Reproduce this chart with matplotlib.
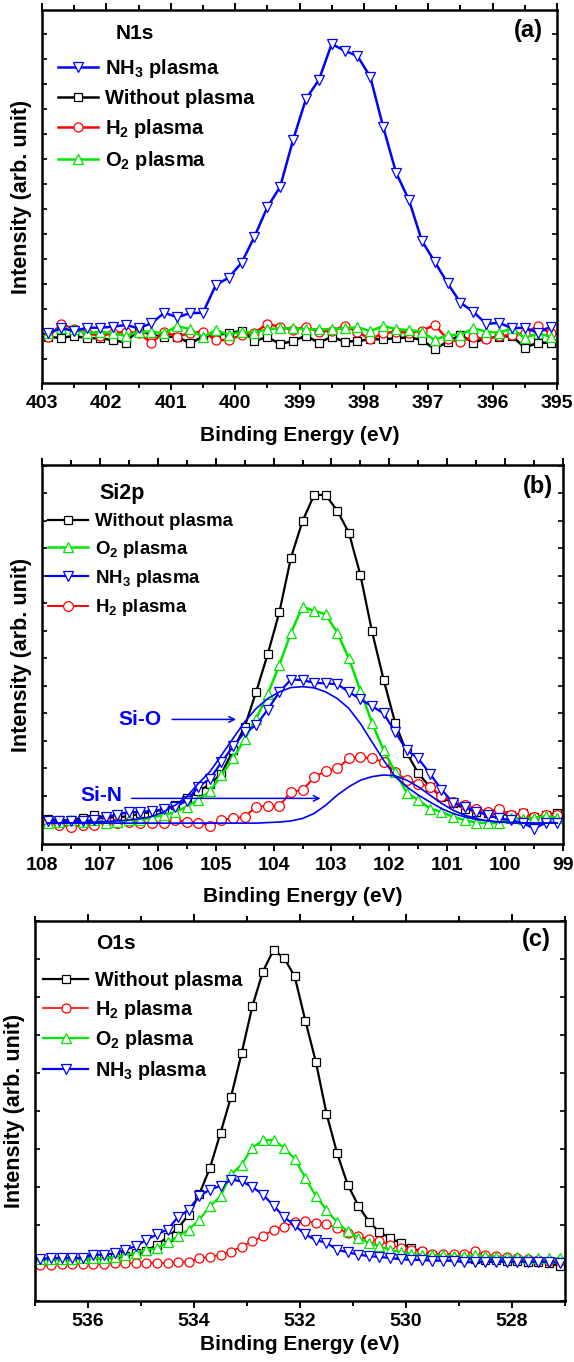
import numpy as np
import matplotlib
matplotlib.use('Agg')
import matplotlib.pyplot as plt
from matplotlib.ticker import MultipleLocator, FormatStrFormatter

plt.rcParams['font.family'] = 'Liberation Sans'
plt.rcParams['font.weight'] = 'bold'
plt.rcParams['axes.labelweight'] = 'bold'
plt.rcParams['mathtext.fontset'] = 'custom'
plt.rcParams['mathtext.rm'] = 'Liberation Sans:bold'
plt.rcParams['mathtext.bf'] = 'Liberation Sans:bold'
plt.rcParams['mathtext.default'] = 'bf'

BLUE = '#0000ff'
RED = '#ff0000'
GREEN = '#00e600'
BLACK = '#000000'

# ---- N1s spectra (0.2 eV step) ----
n1s_be = np.round(np.arange(402.9, 395.0, -0.2), 1)
n1s_nh3 = [1.05, 1.23, 1.12, 1.25, 1.25, 1.29, 1.36, 1.23, 1.43, 1.85,
           1.67, 1.83, 1.85, 2.96, 3.25, 3.85, 4.89, 6.07, 6.89, 8.76,
           10.4, 11.16, 12.6, 12.33, 12.12, 11.28, 9.28, 7.45, 6.36, 4.73,
           3.89, 3.03, 2.25, 1.89, 1.40, 1.45, 1.23, 1.25, 1.05, 1.29]
n1s_none = [0.87, 0.85, 0.92, 0.83, 0.83, 0.76, 0.65, 1.19, 0.96, 0.89,
            0.89, 0.63, 0.89, 0.96, 1.03, 1.12, 0.73, 0.87, 0.60, 0.72,
            0.93, 0.65, 0.89, 0.69, 0.72, 0.79, 0.79, 0.83, 0.87, 0.76,
            0.40, 0.69, 0.96, 0.65, 0.83, 0.89, 0.92, 0.45, 0.65, 0.65]
n1s_h2 = [0.89, 1.40, 1.19, 1.05, 0.92, 1.03, 1.09, 1.03, 0.65, 1.09,
          0.89, 1.05, 1.09, 0.76, 0.76, 0.96, 1.05, 1.40, 1.29, 1.16,
          1.29, 1.09, 1.13, 1.32, 1.09, 0.79, 1.03, 1.09, 1.05, 1.13,
          1.36, 0.79, 0.69, 0.89, 0.79, 0.92, 0.96, 1.03, 1.32, 1.03]
n1s_o2 = [1.05, 1.23, 1.19, 1.03, 1.09, 1.03, 0.92, 1.09, 1.09, 1.03,
          1.32, 1.19, 0.87, 1.16, 0.96, 1.09, 1.05, 1.19, 1.23, 1.23,
          1.19, 1.19, 1.19, 1.23, 1.27, 1.12, 1.32, 1.19, 1.16, 1.09,
          0.76, 0.96, 0.96, 1.23, 1.09, 1.05, 1.23, 0.83, 1.03, 0.89]

# ---- Si2p spectra and fitted components ----
si_be = np.round(np.arange(107.9, 99.0, -0.2), 1)
si_none = [0.15, 0.12, 0.10, 0.20, 0.30, 0.20, 0.22, 0.25, 0.35, 0.40,
           0.50, 0.66, 0.90, 1.15, 1.42, 1.80, 2.65, 3.50, 4.78, 6.15,
           7.67, 9.65, 10.98, 11.93, 11.93, 11.36, 10.56, 9.02, 6.97, 5.22,
           3.65, 2.56, 1.81, 1.32, 0.96, 0.72, 0.53, 0.41, 0.35, 0.33,
           0.29, 0.35, 0.23, 0.29, 0.38]
si_o2 = [0.00, 0.05, 0.10, 0.05, 0.10, 0.02, 0.05, 0.10, 0.12, 0.20,
         0.30, 0.40, 0.60, 0.85, 1.15, 1.75, 2.35, 3.05, 3.80, 4.70,
         5.75, 6.92, 7.87, 7.72, 7.59, 6.92, 5.99, 4.81, 3.65, 2.65,
         1.87, 1.10, 0.84, 0.53, 0.41, 0.23, 0.11, 0.02, 0.00, 0.00,
         0.20, 0.15, 0.20, 0.25, 0.20]
si_nh3 = [0.07, 0.07, 0.07, 0.07, 0.11, 0.23, 0.30, 0.41, 0.40, 0.45,
          0.50, 0.60, 0.81, 1.32, 1.61, 2.21, 2.79, 3.30, 3.56, 4.13,
          4.77, 5.22, 5.20, 5.10, 5.08, 5.05, 4.77, 4.50, 4.25, 3.99,
          3.32, 2.65, 2.35, 1.80, 1.22, 0.74, 0.60, 0.41, 0.29, 0.17,
          0.11, 0.01, -0.20, 0.01, 0.01]
si_h2 = [0.05, -0.05, -0.15, -0.07, -0.07, 0.05, 0.00, 0.05, 0.00, 0.02,
         0.02, 0.11, 0.05, 0.02, -0.11, 0.13, 0.17, 0.23, 0.60, 0.62,
         0.62, 1.14, 1.20, 1.66, 1.90, 1.99, 2.35, 2.41, 2.35, 2.23,
         1.87, 1.56, 1.44, 1.32, 0.98, 0.77, 0.65, 0.53, 0.41, 0.53,
         0.29, 0.35, 0.23, 0.29, 0.29]
si_fit_sio = [0.00, 0.00, 0.01, 0.02, 0.04, 0.06, 0.08, 0.11, 0.16, 0.24,
              0.41, 0.65, 0.96, 1.44, 1.87, 2.47, 3.08, 3.68, 4.17, 4.53,
              4.77, 4.93, 4.96, 4.92, 4.77, 4.53, 4.17, 3.62, 2.95, 2.29,
              1.69, 1.32, 1.02, 0.77, 0.53, 0.35, 0.23, 0.13, 0.08, 0.04,
              0.02, 0.01, 0.00, 0.00, 0.00]
si_fit_sin = [0.00, 0.00, 0.00, 0.00, 0.00, 0.00, 0.00, 0.00, 0.00, 0.00,
              0.00, 0.00, 0.00, 0.00, 0.00, 0.00, 0.00, 0.00, 0.00, 0.02,
              0.04, 0.08, 0.17, 0.35, 0.65, 1.02, 1.32, 1.56, 1.69, 1.75,
              1.72, 1.56, 1.32, 1.02, 0.72, 0.47, 0.29, 0.17, 0.08, 0.04,
              0.02, 0.00, 0.00, 0.00, 0.00]

# ---- O1s spectra ----
o1s_be = np.round(np.arange(536.9, 527.0, -0.2), 1)
o1s_none = [0.10, 0.10, 0.10, 0.12, 0.12, 0.12, 0.13, 0.15, 0.18, 0.25,
            0.31, 0.48, 0.68, 0.92, 1.27, 1.81, 2.50, 3.42, 4.38, 5.53,
            6.75, 7.67, 8.24, 8.03, 7.54, 6.38, 5.29, 3.93, 2.89, 2.06,
            1.51, 1.09, 0.81, 0.66, 0.52, 0.39, 0.30, 0.22, 0.18, 0.15,
            0.12, 0.10, 0.08, 0.08, 0.05, 0.05, 0.03, 0.03, 0.00, -0.08]
o1s_h2 = [-0.05, -0.05, -0.03, -0.03, -0.03, -0.03, -0.02, 0.00, 0.00, 0.00,
          0.00, 0.00, 0.00, 0.02, 0.02, 0.13, 0.16, 0.22, 0.30, 0.43,
          0.57, 0.70, 0.88, 0.96, 1.07, 1.10, 1.05, 1.02, 0.92, 0.79,
          0.70, 0.63, 0.57, 0.48, 0.39, 0.35, 0.31, 0.24, 0.24, 0.24,
          0.24, 0.31, 0.22, 0.19, 0.17, 0.13, 0.10, 0.08, 0.05, 0.05]
o1s_o2 = [0.10, 0.10, 0.10, 0.10, 0.12, 0.12, 0.13, 0.15, 0.21, 0.26,
          0.35, 0.39, 0.54, 0.70, 0.88, 1.14, 1.49, 1.76, 2.33, 2.59,
          3.03, 3.23, 3.24, 3.03, 2.74, 2.24, 1.76, 1.40, 1.07, 0.83,
          0.66, 0.53, 0.44, 0.35, 0.28, 0.24, 0.22, 0.20, 0.20, 0.18,
          0.18, 0.20, 0.18, 0.17, 0.15, 0.17, 0.13, 0.13, 0.12, 0.12]
o1s_nh3 = [0.10, 0.13, 0.13, 0.13, 0.13, 0.22, 0.22, 0.25, 0.35, 0.44,
           0.61, 0.75, 0.88, 1.21, 1.40, 1.76, 1.93, 2.03, 2.19, 2.15,
           2.00, 1.80, 1.51, 1.21, 0.99, 0.75, 0.60, 0.53, 0.35, 0.28,
           0.22, 0.18, 0.16, 0.13, 0.10, 0.08, 0.08, 0.06, 0.06, 0.06,
           0.02, 0.02, 0.03, 0.03, 0.03, 0.03, 0.03, 0.03, 0.03, 0.00]

LBL_NONE = 'Without plasma'
LBL_NH3 = 'NH$_3$ plasma'
LBL_H2 = 'H$_2$ plasma'
LBL_O2 = 'O$_2$ plasma'


def trace(ax, x, y, color, marker, label, lw=1.6, ms=6.5):
    line, = ax.plot(x, y, color=color, lw=lw, marker=marker, ms=ms,
                    mfc='white', mec=color, mew=0.9, label=label)
    return line


def style_axes(ax, xlim, major, minor, ylim, xpad):
    ax.set_xlim(*xlim)
    ax.set_ylim(*ylim)
    ax.xaxis.set_major_locator(MultipleLocator(major))
    ax.xaxis.set_minor_locator(MultipleLocator(minor))
    ax.xaxis.set_major_formatter(FormatStrFormatter('%d'))
    ax.yaxis.set_major_locator(MultipleLocator(1))
    ax.tick_params(axis='x', which='both', direction='out', top=True,
                   bottom=True, labelsize=14, width=1.4, pad=4)
    ax.tick_params(axis='x', which='major', length=5)
    ax.tick_params(axis='x', which='minor', length=3.5)
    ax.tick_params(axis='y', which='both', direction='in', left=True,
                   right=True, labelleft=False, length=3.5, width=1.2)
    for s in ax.spines.values():
        s.set_linewidth(1.8)
    ax.set_xlabel('Binding Energy (eV)', fontsize=15, labelpad=xpad)
    ax.set_ylabel('Intensity (arb. unit)', fontsize=15.5, labelpad=7.5)


def legend(ax, handles, anchor, size, hlen, spacing):
    ax.legend(handles=handles, loc='upper left', bbox_to_anchor=anchor,
              frameon=False, fontsize=size, handlelength=hlen,
              handletextpad=0.35, labelspacing=spacing, borderpad=0,
              borderaxespad=0, numpoints=1)


fig = plt.figure(figsize=(5.74, 13.62), dpi=100)

# (a) N1s
ax = fig.add_axes([0.0732, 0.7188, 0.8972, 0.2739])
h_none = trace(ax, n1s_be, n1s_none, BLACK, 's', LBL_NONE, lw=1.8, ms=6)
h_h2 = trace(ax, n1s_be, n1s_h2, RED, 'o', LBL_H2, lw=1.8, ms=6.5)
h_o2 = trace(ax, n1s_be, n1s_o2, GREEN, '^', LBL_O2, lw=1.8, ms=7)
h_nh3 = trace(ax, n1s_be, n1s_nh3, BLUE, 'v', LBL_NH3, lw=1.8, ms=7)
style_axes(ax, (403, 395), 1, 0.5, (-0.96, 13.96), 10)
legend(ax, [h_nh3, h_none, h_h2, h_o2], (0.031, 0.875), 14.5, 2.0, 0.45)
ax.text(0.18, 0.938, 'N1s', transform=ax.transAxes, ha='center',
        va='center', fontsize=15)
ax.text(0.973, 0.946, '(a)', transform=ax.transAxes, ha='right',
        va='center', fontsize=17)

# (b) Si2p
ax = fig.add_axes([0.0732, 0.3803, 0.9077, 0.2783])
h_none = trace(ax, si_be, si_none, BLACK, 's', LBL_NONE, lw=1.6, ms=6)
h_h2 = trace(ax, si_be, si_h2, RED, 'o', LBL_H2, lw=1.4, ms=7)
h_o2 = trace(ax, si_be, si_o2, GREEN, '^', LBL_O2, lw=1.8, ms=7)
h_nh3 = trace(ax, si_be, si_nh3, BLUE, 'v', LBL_NH3, lw=1.6, ms=7)
ax.plot(si_be, si_fit_sio, color=BLUE, lw=1.2)
ax.plot(si_be, si_fit_sin, color=BLUE, lw=1.2)
style_axes(ax, (108, 99), 1, 0.5, (-0.76, 13.02), 10)
legend(ax, [h_none, h_o2, h_nh3, h_h2], (0.0115, 0.873), 13.4, 2.15, 0.45)
ax.text(0.154, 0.926, 'Si2p', transform=ax.transAxes, ha='center',
        va='center', fontsize=15.5)
ax.text(0.981, 0.942, '(b)', transform=ax.transAxes, ha='right',
        va='center', fontsize=17)
ax.annotate('', xy=(104.6, 3.77), xytext=(105.8, 3.77),
            arrowprops=dict(arrowstyle='->', color=BLUE, lw=1.1))
ax.text(106.3, 3.75, 'Si-O', color=BLUE, ha='center', va='center',
        fontsize=15)
ax.annotate('', xy=(103.14, 0.9), xytext=(106.5, 0.9),
            arrowprops=dict(arrowstyle='->', color=BLUE, lw=1.1))
ax.text(106.97, 1.02, 'Si-N', color=BLUE, ha='center', va='center',
        fontsize=15)

# (c) O1s
ax = fig.add_axes([0.0610, 0.0448, 0.9233, 0.2790])
h_none = trace(ax, o1s_be, o1s_none, BLACK, 's', LBL_NONE, lw=1.6, ms=6)
h_h2 = trace(ax, o1s_be, o1s_h2, RED, 'o', LBL_H2, lw=1.2, ms=6.5)
h_o2 = trace(ax, o1s_be, o1s_o2, GREEN, '^', LBL_O2, lw=1.6, ms=7)
h_nh3 = trace(ax, o1s_be, o1s_nh3, BLUE, 'v', LBL_NH3, lw=1.6, ms=7)
style_axes(ax, (537, 527), 2, 1, (-1, 9), 3)
legend(ax, [h_none, h_h2, h_o2, h_nh3], (0.015, 0.868), 14.2, 2.3, 0.38)
ax.text(0.153, 0.942, 'O1s', transform=ax.transAxes, ha='center',
        va='center', fontsize=15)
ax.text(0.974, 0.95, '(c)', transform=ax.transAxes, ha='right',
        va='center', fontsize=17)

fig.savefig('out.png', dpi=100)
plt.close(fig)
